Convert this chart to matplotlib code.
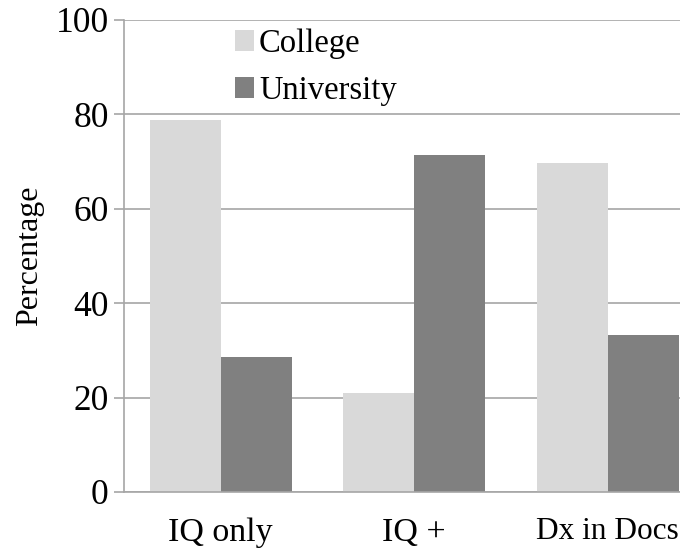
import numpy as np
import matplotlib
matplotlib.use('Agg')
from matplotlib import pyplot as plt

categories = ['IQ only', 'IQ +', 'Dx in Docs']
college = [78.9, 21.0, 69.7]
university = [28.6, 71.3, 33.3]

plt.rcParams['font.family'] = ['Liberation Serif', 'DejaVu Serif']

fig = plt.figure(figsize=(6.8, 5.5), dpi=100)
# axes runs off the right edge, like the cropped original
ax = fig.add_axes([124 / 680, 58 / 550, 580.5 / 680, 472 / 550])

x = np.arange(len(categories))
w = 0.366
ax.bar(x - w / 2, college, w, color='#d9d9d9', label='College', zorder=2)
ax.bar(x + w / 2, university, w, color='#808080', label='University', zorder=2)

ax.set_xlim(-0.5, 2.5)
ax.set_ylim(0, 100)
ax.set_yticks([0, 20, 40, 60, 80, 100])
ax.yaxis.grid(True, color='#a6a6a6', linewidth=1.2, zorder=0)
ax.set_axisbelow(True)

ax.set_xticks(x)
ax.set_xticklabels(categories)
ax.tick_params(axis='x', length=0, pad=18, labelsize=24.5)
ax.tick_params(axis='y', length=7, width=1.2, color='#a6a6a6', pad=4, labelsize=25.5)
# last label is squeezed against the crop edge
ax.get_xticklabels()[-1].set_fontsize(22.5)

for s in ['top', 'right']:
    ax.spines[s].set_visible(False)
for s in ['left', 'bottom']:
    ax.spines[s].set_color('#a6a6a6')
    ax.spines[s].set_linewidth(1.2)

ax.set_ylabel('Percentage', fontsize=23, labelpad=8)

ax.legend(loc='upper left', bbox_to_anchor=(0.168, 1.01), frameon=False, fontsize=23.5,
          handlelength=0.6, handleheight=0.6, handletextpad=0.15, labelspacing=0.5,
          borderaxespad=0)

fig.savefig('out.png', dpi=100)
